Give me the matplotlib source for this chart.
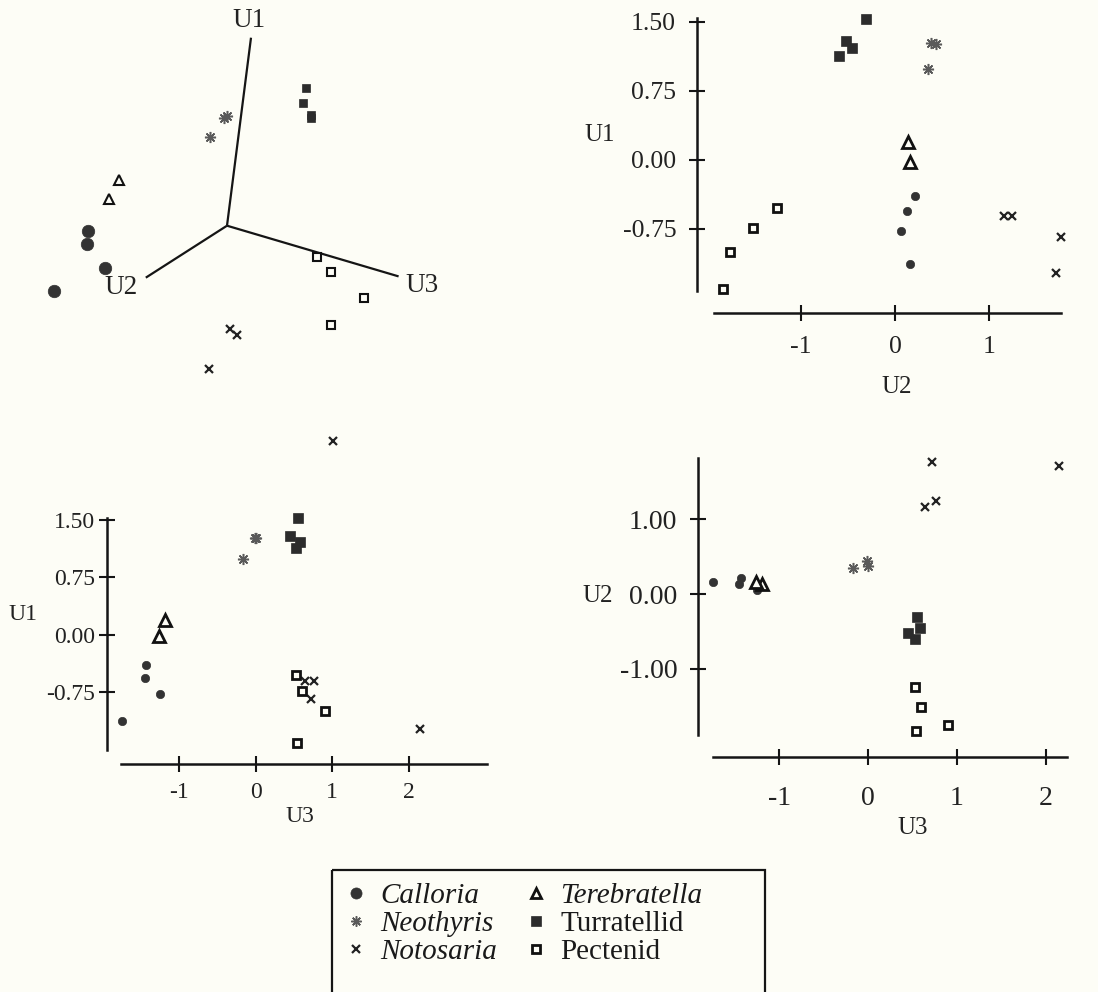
import numpy as np
import matplotlib
matplotlib.use('Agg')
import matplotlib.pyplot as plt
from matplotlib.lines import Line2D
from matplotlib.patches import Rectangle

plt.rcParams['font.family'] = ['Liberation Serif', 'DejaVu Serif']

# ---------------- data (canonical variate scores) ----------------
species = ['Calloria', 'Neothyris', 'Notosaria', 'Terebratella', 'Turratellid', 'Pectenid']
italic_names = ['Calloria', 'Neothyris', 'Notosaria', 'Terebratella']

calloria_u1 = [-0.39, -0.56, -0.78, -1.13]
calloria_u2 = [0.21, 0.13, 0.06, 0.16]
calloria_u3 = [-1.43, -1.45, -1.25, -1.74]

neothyris_u1 = [1.27, 1.26, 0.99]
neothyris_u2 = [0.38, 0.44, 0.35]
neothyris_u3 = [0.00, -0.01, -0.17]

notosaria_u1 = [-0.61, -0.61, -0.84, -1.23]
notosaria_u2 = [1.16, 1.24, 1.77, 1.71]
notosaria_u3 = [0.64, 0.76, 0.72, 2.15]

terebratella_u1 = [0.19, -0.02]
terebratella_u2 = [0.14, 0.16]
terebratella_u3 = [-1.19, -1.26]

turratellid_u1 = [1.53, 1.29, 1.21, 1.13]
turratellid_u2 = [-0.31, -0.52, -0.46, -0.60]
turratellid_u3 = [0.55, 0.45, 0.58, 0.53]

pectenid_u1 = [-0.53, -0.74, -1.00, -1.41]
pectenid_u2 = [-1.25, -1.51, -1.75, -1.83]
pectenid_u3 = [0.53, 0.60, 0.90, 0.54]

scores = {
    'Calloria': (calloria_u1, calloria_u2, calloria_u3),
    'Neothyris': (neothyris_u1, neothyris_u2, neothyris_u3),
    'Notosaria': (notosaria_u1, notosaria_u2, notosaria_u3),
    'Terebratella': (terebratella_u1, terebratella_u2, terebratella_u3),
    'Turratellid': (turratellid_u1, turratellid_u2, turratellid_u3),
    'Pectenid': (pectenid_u1, pectenid_u2, pectenid_u3),
}

u1_ticks = [1.50, 0.75, 0.00, -0.75]
u1_ticklabels = ['1.50', '0.75', '0.00', '-0.75']
u2_ticks_tr = [-1, 0, 1]
u2_ticklabels_tr = ['-1', '0', '1']
u3_ticks = [-1, 0, 1, 2]
u3_ticklabels = ['-1', '0', '1', '2']
u2_ticks_br = [1.00, 0.00, -1.00]
u2_ticklabels_br = ['1.00', '0.00', '-1.00']

# ---------------- styles ----------------
BG = '#fdfdf6'
INK = '#151515'
TXT = '#222222'
W, H = 1098, 992

styles = {
    'Calloria': dict(marker='o', mfc='#333333', mec='#333333', mew=0.5),
    'Neothyris': dict(marker=(8, 2, 0), mfc='#5a5a5a', mec='#5a5a5a', mew=1.1),
    'Notosaria': dict(marker='x', mfc='#222222', mec='#222222', mew=1.6),
    'Terebratella': dict(marker='^', mfc=BG, mec='#111111', mew=2.0),
    'Turratellid': dict(marker='s', mfc='#2c2c2c', mec='#2c2c2c', mew=0.5),
    'Pectenid': dict(marker='s', mfc=BG, mec='#111111', mew=2.0),
}
size_2d = {'Calloria': 6.0, 'Neothyris': 8, 'Notosaria': 5.2,
           'Terebratella': 8.5, 'Turratellid': 7.5, 'Pectenid': 6.3}
size_3d = {'Calloria': 9.0, 'Neothyris': 8, 'Notosaria': 5.2,
           'Terebratella': 6.5, 'Turratellid': 6.3, 'Pectenid': 5.6}
mew_3d = {'Terebratella': 1.5, 'Pectenid': 1.5}

fig = plt.figure(figsize=(W / 100, H / 100), dpi=100, facecolor=BG)


def px_axes(left, top, right, bottom):
    return fig.add_axes([left / W, 1 - bottom / H, (right - left) / W, (bottom - top) / H])


# ---------------- overlay axes in pixel units (3-D projection + legend frame) ----------------
ov = px_axes(0, 0, W, H)
ov.set_xlim(0, W)
ov.set_ylim(H, 0)
ov.axis('off')
ov.patch.set_alpha(0)

origin = np.array([227.0, 225.7])
proj = np.array([[12.0, -94.0],    # U1 direction (pixels per unit)
                 [-40.0, 25.6],    # U2
                 [88.0, 26.0]])    # U3
axis_len = [2.0, 2.03, 1.95]
axis_names = ['U1', 'U2', 'U3']
label_off = [(-2, -17), (-25, 10), (23, 9)]
for i in range(3):
    end = origin + axis_len[i] * proj[i]
    ov.plot([origin[0], end[0]], [origin[1], end[1]], color=INK, lw=1.6,
            solid_capstyle='butt', zorder=1)
    ov.text(end[0] + label_off[i][0], end[1] + label_off[i][1], axis_names[i],
            fontsize=19.5, ha='center', va='center', color=TXT)

for sp in species:
    u = np.column_stack(scores[sp])
    p = u @ proj + origin
    st = dict(styles[sp])
    if sp in mew_3d:
        st['mew'] = mew_3d[sp]
    ov.plot(p[:, 0], p[:, 1], ls='none', ms=size_3d[sp], zorder=3, **st)

# ---------------- 2-D panels ----------------


def panel(box, xlim, ylim, xb, yb, xdim, ydim, xt, xtl, yt, ytl, fs, xpad, ypad):
    ax = px_axes(*box)
    ax.set_facecolor('none')
    ax.set_xlim(*xlim)
    ax.set_ylim(*ylim)
    for s in ['top', 'right']:
        ax.spines[s].set_visible(False)
    for s in ['left', 'bottom']:
        ax.spines[s].set_linewidth(1.8)
        ax.spines[s].set_color(INK)
    ax.spines['bottom'].set_bounds(*xb)
    ax.spines['left'].set_bounds(*yb)
    ax.set_xticks(xt)
    ax.set_xticklabels(xtl)
    ax.set_yticks(yt)
    ax.set_yticklabels(ytl)
    ax.tick_params(direction='inout', length=11, width=1.5, color=INK,
                   labelsize=fs, labelcolor=TXT)
    ax.tick_params(axis='x', pad=xpad)
    ax.tick_params(axis='y', pad=ypad)
    for sp in species:
        u = scores[sp]
        ax.plot(u[xdim], u[ydim], ls='none', ms=size_2d[sp], clip_on=False,
                zorder=3, **styles[sp])
    return ax


# top right: U2 vs U1
panel((697, 10, 1075, 313.3), (-2.106, 1.915), (-1.670, 1.627),
      (-1.93, 1.77), (-1.43, 1.54), 1, 0,
      u2_ticks_tr, u2_ticklabels_tr, u1_ticks, u1_ticklabels, 18.5, 11, 9.5)
fig.text(600 / W, 1 - 135 / H, 'U1', fontsize=18, ha='center', va='center', color=TXT)
fig.text(897 / W, 1 - 387 / H, 'U2', fontsize=18, ha='center', va='center', color=TXT)

# bottom left: U3 vs U1
panel((106.7, 495, 495, 764), (-1.945, 3.124), (-1.690, 1.826),
      (-1.76, 3.02), (-1.51, 1.53), 2, 0,
      u3_ticks, u3_ticklabels, u1_ticks, u1_ticklabels, 17, 7.5, 3.0)
fig.text(23 / W, 1 - 615 / H, 'U1', fontsize=17, ha='center', va='center', color=TXT)
fig.text(300 / W, 1 - 817 / H, 'U3', fontsize=17, ha='center', va='center', color=TXT)

# bottom right: U3 vs U2
panel((698.3, 450, 1080, 757.3), (-1.911, 2.387), (-2.186, 1.928),
      (-1.74, 2.24), (-1.89, 1.82), 2, 1,
      u3_ticks, u3_ticklabels, u2_ticks_br, u2_ticklabels_br, 20, 15, 9.5)
fig.text(598 / W, 1 - 596 / H, 'U2', fontsize=18, ha='center', va='center', color=TXT)
fig.text(913 / W, 1 - 828 / H, 'U3', fontsize=18, ha='center', va='center', color=TXT)

# ---------------- legend ----------------
ov.add_patch(Rectangle((332, 870), 433, 140, fill=False, ec=INK, lw=1.6, zorder=1))
leg_size = {'Calloria': 8.0, 'Neothyris': 7.5, 'Notosaria': 5.5,
            'Terebratella': 7.0, 'Turratellid': 6.8, 'Pectenid': 6.0}
handles = [Line2D([], [], ls='none', ms=leg_size[sp], **styles[sp]) for sp in species]
leg = fig.legend(handles, species, loc='upper left',
                 bbox_to_anchor=(344 / W, 1 - 882.5 / H), ncol=2, frameon=False,
                 fontsize=21, handlelength=0.85, handletextpad=0.4,
                 columnspacing=0.9, labelspacing=0.06, borderaxespad=0,
                 borderpad=0)
for t in leg.get_texts():
    t.set_color('#1a1a1a')
    if t.get_text() in italic_names:
        t.set_fontstyle('italic')

fig.savefig('out.png', dpi=100, facecolor=BG)
